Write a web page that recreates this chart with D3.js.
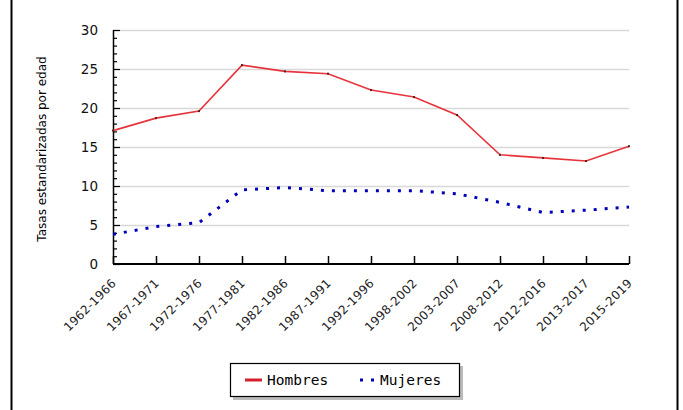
<!DOCTYPE html>
<html>
<head>
<meta charset="utf-8">
<script src="https://cdn.jsdelivr.net/npm/d3@7"></script>
<style>
  body { margin: 0; background: #fff; }
  svg { display: block; }
</style>
</head>
<body>
<div id="chart"></div>
<script>
// periods on the x axis
const periods = ["1962-1966", "1967-1971", "1972-1976", "1977-1981", "1982-1986",
  "1987-1991", "1992-1996", "1998-2002", "2003-2007", "2008-2012",
  "2012-2016", "2013-2017", "2015-2019"];
const hombres = [17.1, 18.7, 19.6, 25.5, 24.7, 24.4, 22.3, 21.4, 19.1, 14.0, 13.6, 13.2, 15.1];
const mujeres = [3.8, 4.8, 5.3, 9.5, 9.8, 9.4, 9.4, 9.4, 9.0, 7.9, 6.6, 6.9, 7.3];
const yTicks = [0, 5, 10, 15, 20, 25, 30];
const seriesNames = ["Hombres", "Mujeres"];

const width = 683, height = 410;
const margin = { left: 113, right: 54, top: 30, bottom: 146 };

const svg = d3.select("#chart").append("svg")
  .attr("width", width)
  .attr("height", height);

// outer frame
svg.append("rect")
  .attr("x", 11.5).attr("y", -5)
  .attr("width", 666).attr("height", height + 10)
  .attr("fill", "none").attr("stroke", "#000").attr("stroke-width", 2);

const x = d3.scalePoint()
  .domain(periods)
  .range([margin.left, width - margin.right]);

const y = d3.scaleLinear()
  .domain([0, 30])
  .range([height - margin.bottom, margin.top]);

// grid
svg.append("g")
  .selectAll("line")
  .data(yTicks.slice(1))
  .join("line")
  .attr("x1", margin.left).attr("x2", width - margin.right)
  .attr("y1", d => Math.round(y(d)) + 0.5).attr("y2", d => Math.round(y(d)) + 0.5)
  .attr("stroke", "#d8d8d8").attr("stroke-width", 1.5);

// y axis with inner minor ticks
const yAxis = svg.append("g")
  .attr("transform", `translate(${margin.left}, 0)`)
  .call(d3.axisRight(y).tickValues(d3.range(0, 31, 1)).tickSize(4).tickFormat(""));
yAxis.select(".domain").remove();
yAxis.selectAll(".tick line").attr("stroke", "#000").attr("stroke-width", 1.2)
  .attr("x2", d => (d % 5 === 0 ? 7 : 4));

svg.append("line")
  .attr("x1", margin.left + 0.5).attr("x2", margin.left + 0.5)
  .attr("y1", y(30)).attr("y2", y(0))
  .attr("stroke", "#000").attr("stroke-width", 1.5);

svg.append("g")
  .selectAll("text")
  .data(yTicks)
  .join("text")
  .attr("x", 98)
  .attr("y", d => y(d) + 5)
  .attr("text-anchor", "end")
  .attr("font-family", "DejaVu Sans, sans-serif")
  .attr("font-size", 13.5)
  .attr("fill", "#111")
  .text(d => d);

// y axis title
svg.append("text")
  .attr("transform", `translate(46, ${(y(0) + y(30)) / 2 + 2}) rotate(-90)`)
  .attr("text-anchor", "middle")
  .attr("font-family", "DejaVu Sans, sans-serif")
  .attr("font-size", 12)
  .attr("fill", "#000")
  .text("Tasas estandarizadas por edad");

// x axis
const xAxis = svg.append("g")
  .attr("transform", `translate(0, ${y(0)})`)
  .call(d3.axisTop(x).tickSize(8).tickFormat(""));
xAxis.select(".domain").attr("d", `M${margin.left},0H${width - margin.right}`)
  .attr("stroke", "#000").attr("stroke-width", 1.8);
xAxis.selectAll(".tick line").attr("stroke", "#000").attr("stroke-width", 1.5);

svg.append("g")
  .selectAll("text")
  .data(periods)
  .join("text")
  .attr("transform", d => `translate(${x(d) - 2}, ${y(0) + 14}) rotate(-45)`)
  .attr("text-anchor", "end")
  .attr("dy", "0.7em")
  .attr("font-family", "DejaVu Sans, sans-serif")
  .attr("font-size", 12)
  .attr("letter-spacing", 0.3)
  .attr("fill", "#222")
  .text(d => d);

// lines
const line = d3.line()
  .x((d, i) => x(periods[i]))
  .y(d => y(d));

svg.append("path")
  .datum(hombres)
  .attr("d", line)
  .attr("fill", "none")
  .attr("stroke", "#e8333b")
  .attr("stroke-width", 1.6);

svg.append("g")
  .selectAll("rect")
  .data(hombres)
  .join("rect")
  .attr("x", (d, i) => x(periods[i]) - 1)
  .attr("y", d => y(d) - 1)
  .attr("width", 2).attr("height", 2)
  .attr("fill", "#552222");

svg.append("path")
  .datum(mujeres)
  .attr("d", line)
  .attr("fill", "none")
  .attr("stroke", "#0000bb")
  .attr("stroke-width", 3)
  .attr("stroke-dasharray", "3,8");

// legend
const lg = svg.append("g").attr("transform", "translate(230, 363)");
lg.append("rect")
  .attr("x", 3).attr("y", 3).attr("width", 230).attr("height", 34)
  .attr("fill", "#bbb");
lg.append("rect")
  .attr("x", 0.5).attr("y", 0.5).attr("width", 229).attr("height", 33)
  .attr("fill", "#fff").attr("stroke", "#000").attr("stroke-width", 1.2);

lg.append("line")
  .attr("x1", 15).attr("x2", 32).attr("y1", 17).attr("y2", 17)
  .attr("stroke", "#d4202c").attr("stroke-width", 3);
lg.append("line")
  .attr("x1", 130).attr("x2", 144).attr("y1", 17).attr("y2", 17)
  .attr("stroke", "#0000bb").attr("stroke-width", 3)
  .attr("stroke-dasharray", "3,8");

lg.selectAll("text.leg")
  .data(seriesNames)
  .join("text")
  .attr("class", "leg")
  .attr("x", (d, i) => (i === 0 ? 37 : 150))
  .attr("y", 22)
  .attr("font-family", "DejaVu Sans Mono, monospace")
  .attr("font-size", 14.5)
  .attr("fill", "#000")
  .text(d => d);
</script>
</body>
</html>
